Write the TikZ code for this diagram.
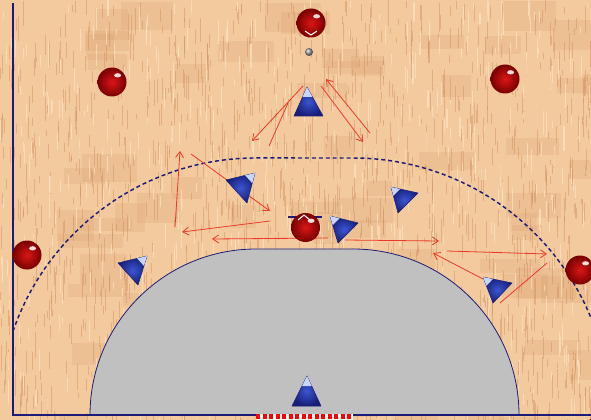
\documentclass[tikz,border=0pt]{standalone}
\usetikzlibrary{arrows.meta,calc}
\definecolor{wood}{RGB}{243,202,158}
\definecolor{wooddark}{RGB}{206,140,92}
\definecolor{woodlight}{RGB}{253,232,200}
\definecolor{navy}{RGB}{28,28,120}
\definecolor{goalgray}{RGB}{192,192,192}
\definecolor{arrowred}{RGB}{236,56,40}
\definecolor{balred}{RGB}{218,22,22}
\definecolor{baldark}{RGB}{120,0,0}
\definecolor{triblue}{RGB}{60,85,210}
\definecolor{trideep}{RGB}{22,30,120}
\definecolor{trihi}{RGB}{200,212,248}
\newcommand\playertri[3]{%
  \path[tri] #1 -- #2 -- #3 -- cycle;
  \path[trihl] #1 -- ($#1!0.34!#2$) -- ($#1!0.34!#3$) -- cycle;}
\begin{document}
\begin{tikzpicture}[x=0.75pt,y=-0.75pt,
  ballnode/.style={circle,inner sep=0pt,minimum size=21.75pt,shading=radial,inner color=balred,outer color=baldark,
    path picture={\fill[white,opacity=0.85] ([xshift=4.2pt,yshift=5pt]path picture bounding box.center) ellipse[x radius=2.6pt,y radius=1.6pt];}},
  move/.style={draw=arrowred,line width=0.6pt,-{Straight Barb[length=4.5pt,width=6pt]}},
  plainmove/.style={draw=arrowred,line width=0.6pt},
  tri/.style={shading=radial,inner color=triblue,outer color=trideep,draw=trideep,line width=0.4pt,line join=round},
  trihl/.style={fill=trihi,draw=none},
  nine/.style={draw=navy,line width=1.1pt,dash pattern=on 3pt off 2.2pt},
  court/.style={draw=navy,line width=1.6pt}]
\useasboundingbox (0,0) rectangle (591,420);
\clip (0,0) rectangle (591,420);
% floor
\fill[wood] (0,0) rectangle (591,420);
\pgfmathsetseed{4}
\foreach \i in {1,...,80}{
  \pgfmathsetmacro\xx{591*rnd}
  \pgfmathsetmacro\yy{420*rnd}
  \pgfmathsetmacro\ww{25+40*rnd}
  \pgfmathsetmacro\hh{12+20*rnd}
  \fill[wooddark,opacity=0.16] (\xx,\yy) rectangle ({\xx+\ww},{\yy+\hh});
}
\foreach \i in {1,...,1400}{
  \pgfmathsetmacro\xx{591*rnd}
  \pgfmathsetmacro\yy{420*rnd}
  \pgfmathsetmacro\ll{5+22*rnd}
  \draw[wooddark,line width=0.6pt,opacity=0.45] (\xx,\yy) -- (\xx,{\yy+\ll});
}
\foreach \i in {1,...,600}{
  \pgfmathsetmacro\xx{591*rnd}
  \pgfmathsetmacro\yy{420*rnd}
  \pgfmathsetmacro\ll{5+20*rnd}
  \draw[woodlight,line width=0.8pt,opacity=0.6] (\xx,\yy) -- (\xx,{\yy+\ll});
}
% goal area
\path[fill=goalgray,draw=navy,line width=0.6pt] (90,415) arc[start angle=180,end angle=270,radius=166]
  -- (353,249) arc[start angle=270,end angle=360,radius=166] -- cycle;
% 9 m line
\draw[nine] (13,331.3) arc[start angle=199,end angle=270,radius=257]
  -- (353,158) arc[start angle=270,end angle=345,radius=257];
% court lines
\draw[court] (13,3) -- (13,415);
\draw[court] (12,415) -- (591,415);
\fill[white] (256,414) rectangle (353,419.5);
\draw[red,line width=3.9pt,dash pattern=on 3pt off 1.9pt] (256,416.8) -- (353,416.8);
% movement arrows
\coordinate (a1s) at (303,86);  \coordinate (a1e) at (252,141);
\coordinate (a2s) at (288,103); \coordinate (a2e) at (269,146);
\coordinate (a3s) at (321,86);  \coordinate (a3e) at (363,142);
\coordinate (a4s) at (370,133); \coordinate (a4e) at (326,79);
\coordinate (a5s) at (175,227); \coordinate (a5e) at (180,151);
\coordinate (a6s) at (191,154); \coordinate (a6e) at (270,211);
\coordinate (a7s) at (270,221); \coordinate (a7e) at (182,232);
\coordinate (a8s) at (328,238); \coordinate (a8e) at (212,239);
\coordinate (a9s) at (345,240); \coordinate (a9e) at (439,241);
\coordinate (a10s) at (447,251); \coordinate (a10e) at (547,254);
\coordinate (a11s) at (483,279); \coordinate (a11e) at (433,253);
\coordinate (a12s) at (500,303); \coordinate (a12e) at (547,263);
\draw[move] (a1s) -- (a1e);
\draw[plainmove] (a2s) -- (a2e);
\draw[move] (a3s) -- (a3e);
\draw[move] (a4s) -- (a4e);
\draw[move] (a5s) -- (a5e);
\draw[move] (a6s) -- (a6e);
\draw[move] (a7s) -- (a7e);
\draw[move] (a8s) -- (a8e);
\draw[move] (a9s) -- (a9e);
\draw[move] (a10s) -- (a10e);
\draw[move] (a11s) -- (a11e);
\draw[plainmove] (a12s) -- (a12e);
% defenders (blue triangles)
\playertri{(307,87)}{(294,116)}{(323,116)}
\playertri{(255,173)}{(226,180)}{(247,203)}
\playertri{(391,187)}{(418,193)}{(398,213)}
\playertri{(330,216)}{(358,223)}{(338,243)}
\playertri{(147,256)}{(118,263)}{(138,285)}
\playertri{(483,277)}{(512,283)}{(493,303)}
\playertri{(307,376)}{(292,406)}{(321,406)}
% attackers (red balls)
\draw[navy,line width=1.5pt] (288,217) -- (322,217);
\node[ballnode] (p1) at (311,23) {};
\node[ballnode] (p2) at (112,82) {};
\node[ballnode] (p3) at (505,79) {};
\node[ballnode] (p4) at (27,255) {};
\node[ballnode] (p5) at (580,270) {};
\node[ballnode] (p6) at (305.5,227.5) {};
\node[ballnode] (p7) at (601,429) {};
\draw[white,line width=0.8pt] (305,31) -- (311,35) -- (317,31);
\draw[white,line width=0.8pt] (298,220) -- (304,215) -- (310,220);
% ball
\node[circle,inner sep=0pt,minimum size=6pt,ball color=gray!80] (ball) at (309,52) {};
\end{tikzpicture}
\end{document}
